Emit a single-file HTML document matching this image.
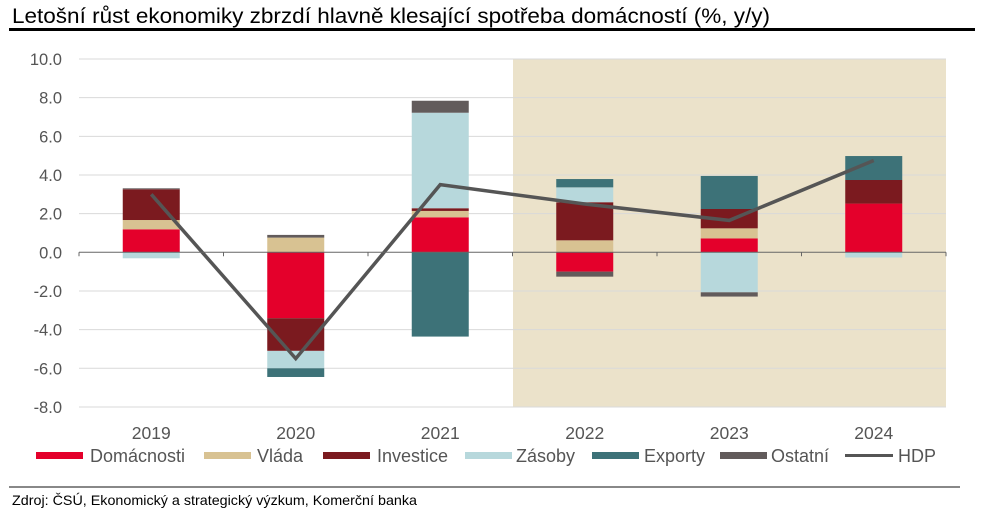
<!DOCTYPE html>
<html><head><meta charset="utf-8"><style>
body{margin:0;background:#fff;width:1001px;height:516px;overflow:hidden;font-family:"Liberation Sans",Arial,sans-serif}
</style></head><body>
<svg id="chart" width="1001" height="516" viewBox="0 0 1001 516" xmlns="http://www.w3.org/2000/svg">
<text x="12" y="23" font-size="21.5" textLength="758" lengthAdjust="spacingAndGlyphs" fill="#000">Letošní růst ekonomiky zbrzdí hlavně klesající spotřeba domácností (%, y/y)</text>
<rect x="9" y="28" width="966" height="3" fill="#000"/>
<rect x="513" y="59" width="433" height="348" fill="#ebe2ca"/>
<g id="grid"></g><g id="bars"></g><g id="line"></g><g id="axes"></g>
<g id="legend"></g>
<rect x="9" y="486" width="951" height="2" fill="#888"/>
<text x="12" y="505" font-size="14" textLength="405" lengthAdjust="spacingAndGlyphs" fill="#000">Zdroj: ČSÚ, Ekonomický a strategický výzkum, Komerční banka</text>
</svg>
<script>
const categories=["2019","2020","2021","2022","2023","2024"];
const seriesNames=["Domácnosti","Vláda","Investice","Zásoby","Exporty","Ostatní"];
const seriesColors=["#e4002b","#d8c292","#7b1a1f","#b7d8dc","#3d7278","#625b5b"];
const domacnosti=[1.19,-3.41,1.81,-1.0,0.72,2.52];
const vlada=[0.48,0.76,0.33,0.62,0.52,0];
const investice=[1.59,-1.69,0.14,1.97,1.0,1.22];
const zasoby=[-0.31,-0.9,4.94,0.77,-2.07,-0.27];
const exporty=[0,-0.45,-4.36,0.43,1.71,1.24];
const ostatni=[0.05,0.14,0.62,-0.26,-0.22,0];
const hdp=[3.0,-5.5,3.5,2.5,1.65,4.75];
const yTicks=[10,8,6,4,2,0,-2,-4,-6,-8];
const yTickLabels=["10.0","8.0","6.0","4.0","2.0","0.0","-2.0","-4.0","-6.0","-8.0"];

const NS="http://www.w3.org/2000/svg";
const L=79,STEP=144.5,BW=57,Y0=252.3,PPU=19.33;
const xc=i=>L+STEP*(i+0.5);
const y=v=>Y0-v*PPU;
function mk(tag,attrs,parent){const e=document.createElementNS(NS,tag);for(const k in attrs)e.setAttribute(k,attrs[k]);document.getElementById(parent).appendChild(e);return e;}

yTicks.forEach((t,i)=>{
  if(t!==0){const g=mk('line',{x1:L,x2:946,y1:y(t),y2:y(t),stroke:'#d9d9d9','stroke-width':1},'grid');
  
  }
  const tx=mk('text',{x:62,y:y(t)+6,'font-size':16.5,fill:'#555','text-anchor':'end'},'axes');
  tx.textContent=yTickLabels[i];
  
  
});
const ax=mk('line',{x1:L,x2:946,y1:Y0,y2:Y0,stroke:'#666','stroke-width':1},'axes');


for(let i=0;i<=6;i++){const t=mk('line',{x1:L+STEP*i,x2:L+STEP*i,y1:Y0,y2:Y0+4,stroke:'#666'},'axes');

}
categories.forEach((c,i)=>{const t=mk('text',{x:xc(i),y:439,'font-size':17.5,fill:'#555','text-anchor':'middle'},'axes');t.textContent=c;

});

const all=[domacnosti,vlada,investice,zasoby,exporty,ostatni];
categories.forEach((c,i)=>{let pos=0,neg=0;
  all.forEach((s,k)=>{const v=s[i];if(!v)return;let a,b;
    if(v>0){a=pos;b=pos+v;pos=b;}else{a=neg;b=neg+v;neg=b;}
    const r=mk('rect',{x:xc(i)-BW/2,y:Math.min(y(a),y(b)),width:BW,height:Math.abs(y(a)-y(b)),fill:seriesColors[k]},'bars');
    
    
  });
});
const pl=mk('polyline',{points:hdp.map((v,i)=>xc(i)+','+y(v)).join(' '),fill:'none',stroke:'#555','stroke-width':3.5,'stroke-linejoin':'miter'},'line');



const lx=[36,204,323,465,592,720];const tx=[90,257,377,516,644,771];
seriesNames.forEach((n,k)=>{const r=mk('rect',{x:lx[k],y:452,width:47,height:7,fill:seriesColors[k]},'legend');


const t=mk('text',{x:tx[k],y:462,'font-size':18,fill:'#555'},'legend');t.textContent=n;

});
const hl=mk('line',{x1:845,x2:893,y1:455.5,y2:455.5,stroke:'#555','stroke-width':3},'legend');


const ht=mk('text',{x:898,y:462,'font-size':18,fill:'#555'},'legend');ht.textContent='HDP';


</script>
</body></html>
